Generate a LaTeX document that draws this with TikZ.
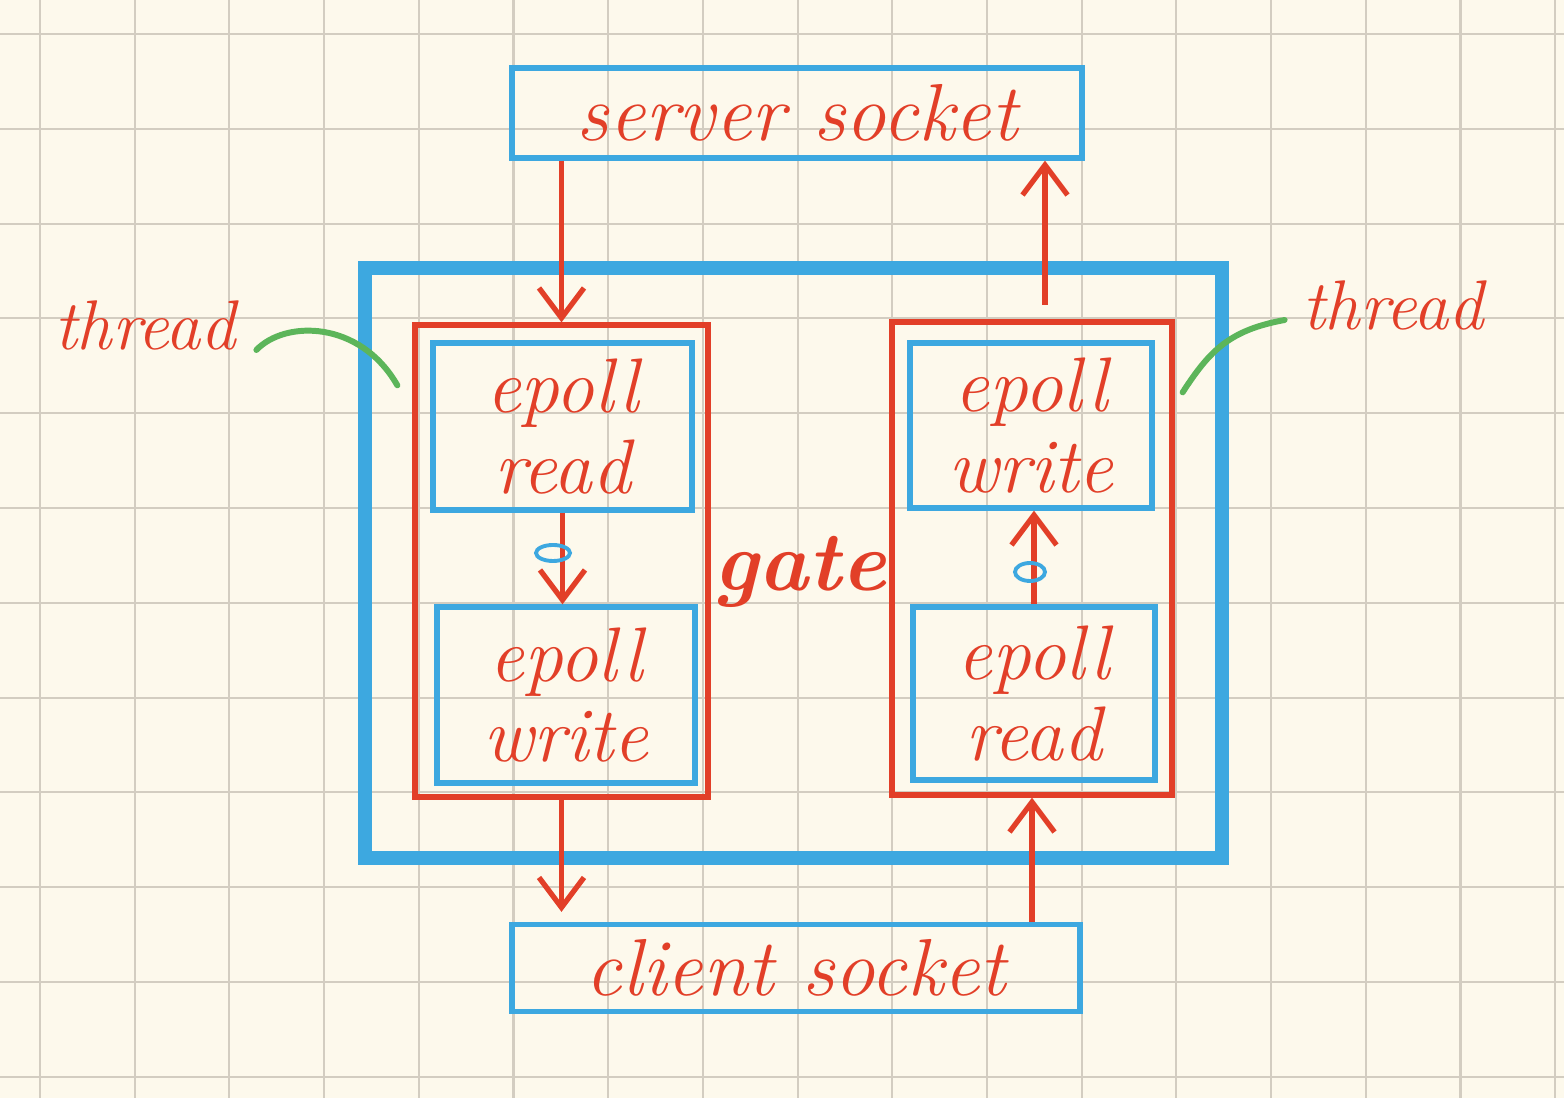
\documentclass[tikz,border=0pt]{standalone}
\usepackage{tikz}
\usetikzlibrary{arrows.meta}

\definecolor{paper}{HTML}{FDF9EC}
\definecolor{gridgray}{HTML}{D3CDC1}
\definecolor{penblue}{HTML}{3DA8E0}
\definecolor{penred}{HTML}{E23F28}
\definecolor{pengreen}{HTML}{5CB55A}

\begin{document}
\begin{tikzpicture}[
		gridline/.style={draw=gridgray, line width=0.6pt},
		sockbox/.style={draw=penblue, line width=1.5pt, text=penred, inner sep=0pt,
			font=\itshape\fontsize{23}{23}\selectfont},
		gatebox/.style={draw=penblue, line width=4pt, inner sep=0pt},
		threadbox/.style={draw=penred, line width=1.5pt, inner sep=0pt},
		epollbox/.style={draw=penblue, line width=1.5pt, text=penred, inner sep=0pt, align=center,
			font=\itshape\fontsize{22}{23}\selectfont},
		threadtext/.style={text=penred, font=\itshape\fontsize{20}{20}\selectfont},
		flow/.style={draw=penred, line width=1.5pt, -{Straight Barb[length=3mm,width=4.5mm]}},
		pointer/.style={draw=pengreen, line width=1.7pt, line cap=round},
		eyemark/.style={draw=penblue, line width=1.1pt}
	]
		% Paper and grid
		\fill[paper] (0,0) rectangle (15.64,-10.98);
		\useasboundingbox (0,0) rectangle (15.64,-10.98);
		\foreach \i in {0,...,16}
			\draw[gridline] ({0.40+0.947*\i},0) -- ++(0,-10.98);
		\foreach \j in {0,...,11}
			\draw[gridline] (0,{-0.34-0.948*\j}) -- ++(15.64,0);

		% Sockets
		\node[sockbox, minimum width=5.70cm, minimum height=0.90cm] (server) at (7.97,-1.13) {server socket};
		\node[sockbox, minimum width=5.68cm, minimum height=0.87cm] (client) at (7.96,-9.68) {client socket};

		% Gate with its two threads
		\node[gatebox, minimum width=8.57cm, minimum height=5.90cm] (gate) at (7.935,-5.63) {};
		\node[text=penred, font=\bfseries\itshape\fontsize{24}{24}\selectfont] (gatename) at (8.0,-5.72) {gate};
		\node[threadbox, minimum width=2.93cm, minimum height=4.72cm] (leftthread) at (5.615,-5.61) {};
		\node[threadbox, minimum width=2.80cm, minimum height=4.73cm] (rightthread) at (10.32,-5.585) {};

		% Epoll stages
		\node[epollbox, minimum width=2.59cm, minimum height=1.67cm] (leftread) at (5.625,-4.265) {epoll\\read};
		\node[epollbox, minimum width=2.58cm, minimum height=1.76cm] (leftwrite) at (5.66,-6.95) {epoll\\write};
		\node[epollbox, minimum width=2.42cm, minimum height=1.65cm] (rightwrite) at (10.31,-4.255) {epoll\\write};
		\node[epollbox, minimum width=2.42cm, minimum height=1.73cm] (rightread) at (10.34,-6.935) {epoll\\read};

		% Thread labels
		\node[threadtext] (threadleft) at (1.45,-3.25) {thread};
		\node[threadtext] (threadright) at (13.93,-3.05) {thread};
		\draw[pointer] ([xshift=0.08cm,yshift=-0.25cm]threadleft.east) .. controls (2.85,-3.2) and (3.6,-3.2) .. ([xshift=-0.15cm,yshift=-0.63cm]leftthread.north west);
		\draw[pointer] ([xshift=-0.05cm,yshift=-0.15cm]threadright.west) .. controls (12.3,-3.3) and (12.1,-3.5) .. ([xshift=0.08cm,yshift=-0.73cm]rightthread.north east);

		% Data flow
		\coordinate (upstart) at (10.45,-3.05);
		\draw[flow] (server.south -| leftthread.north) -- (leftthread.north);
		\draw[flow] (upstart) -- (upstart |- server.south);
		\draw[flow] (leftread.south) -- (leftread.south |- leftwrite.north);
		\draw[flow] (rightread.north) -- (rightread.north |- rightwrite.south);
		\draw[flow] (leftthread.south) -- ([yshift=0.1cm]leftthread.south |- client.north);
		\draw[flow] (client.north -| rightthread.south) -- (rightthread.south);

		% Small marks on the inner arrows
		\draw[eyemark] (5.53,-5.53) ellipse (0.17 and 0.08);
		\draw[eyemark] (10.30,-5.72) ellipse (0.15 and 0.09);
	\end{tikzpicture}
\end{document}
